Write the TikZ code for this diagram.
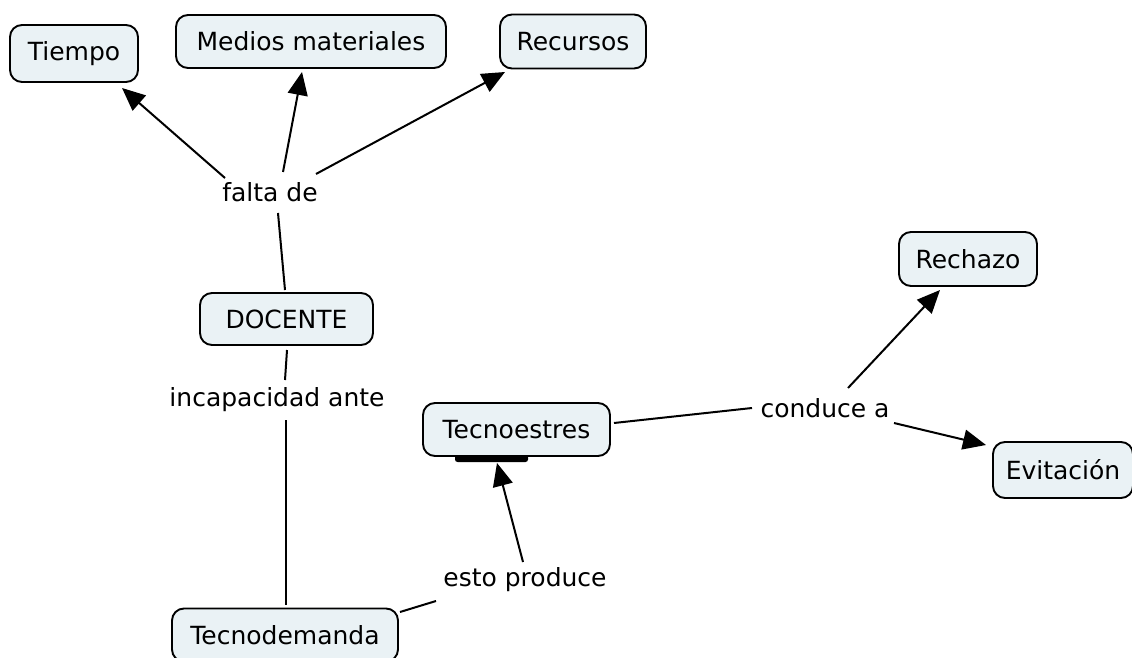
\documentclass[tikz,border=0pt]{standalone}
\usepackage{fontspec}
\setmainfont{DejaVu Sans}
\usetikzlibrary{arrows.meta}
\definecolor{boxfill}{RGB}{234,242,245}
\tikzset{
  concept/.style={draw=black, line width=1.9pt, fill=boxfill, rounded corners=12pt,
    inner sep=0pt, font=\fontsize{25}{29}\selectfont},
  linklabel/.style={inner sep=0pt, font=\fontsize{25}{29}\selectfont},
  conn/.style={line width=2pt, black},
  arr/.style={conn, -{Triangle[length=23pt,width=20pt]}}
}
\begin{document}
\begin{tikzpicture}[x=1pt,y=1pt]
\useasboundingbox (0,0) rectangle (1132,657);
\clip (0,0) rectangle (1132,657);
% concepts
\node[concept, minimum width=128pt, minimum height=57pt] (tiempo) at (74,603.5) {Tiempo};
\node[concept, minimum width=270pt, minimum height=53pt] (medios) at (311,615.5) {Medios materiales};
\node[concept, minimum width=146pt, minimum height=54pt] (recursos) at (573,615.5) {Recursos};
\node[concept, minimum width=173pt, minimum height=52pt] (docente) at (286.5,338) {DOCENTE};
\fill[black, rounded corners=2.5pt] (455,195) rectangle (528,202);
\node[concept, minimum width=187pt, minimum height=53pt] (tecnoestres) at (516.5,227.5) {Tecnoestres};
\node[concept, minimum width=138pt, minimum height=54pt] (rechazo) at (968,398) {Rechazo};
\node[concept, minimum width=140pt, minimum height=56pt] (evitacion) at (1063,187) {Evitación};
\node[concept, minimum width=226pt, minimum height=53pt] (tecnodemanda) at (285,22) {Tecnodemanda};
% link labels
\node[linklabel] (falta) at (270,465) {falta de};
\node[linklabel] (incap) at (277,257) {incapacidad ante};
\node[linklabel] (conduce) at (825,249) {conduce a};
\node[linklabel] (esto) at (525,77) {esto produce};
% connectors
\draw[conn] ([shift={(0.5,-31)}]docente.center) -- ([shift={(8,20)}]incap.center);
\draw[conn] ([shift={(9,-20)}]incap.center) -- ([shift={(1,30)}]tecnodemanda.center);
\draw[conn] ([shift={(-1.5,29)}]docente.center) -- ([shift={(8,-21)}]falta.center);
\draw[arr] ([shift={(-45,14)}]falta.center) -- ([shift={(48,-34.5)}]tiempo.center);
\draw[arr] ([shift={(13,20)}]falta.center) -- ([shift={(-9,-30.5)}]medios.center);
\draw[arr] ([shift={(46,18)}]falta.center) -- ([shift={(-68,-30.5)}]recursos.center);
\draw[conn] ([shift={(115,23)}]tecnodemanda.center) -- ([shift={(-89,-21)}]esto.center);
\draw[arr] ([shift={(-2,18)}]esto.center) -- ([shift={(-19.5,-33.5)}]tecnoestres.center);
\draw[conn] ([shift={(97.5,6.5)}]tecnoestres.center) -- ([shift={(-73,0)}]conduce.center);
\draw[arr] ([shift={(23,20)}]conduce.center) -- ([shift={(-28,-31)}]rechazo.center);
\draw[arr] ([shift={(69,-15)}]conduce.center) -- ([shift={(-77,25)}]evitacion.center);
\end{tikzpicture}
\end{document}
